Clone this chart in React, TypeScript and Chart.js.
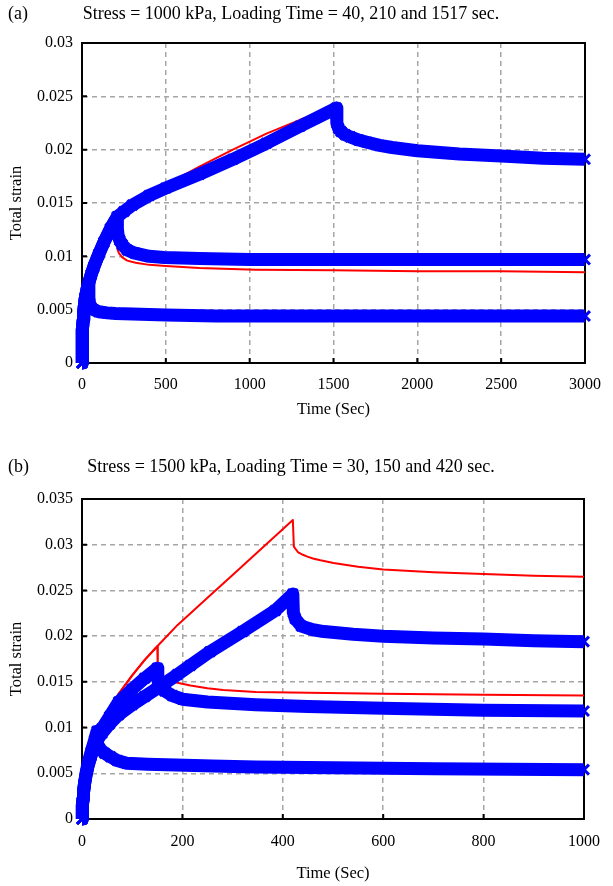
import React, { useEffect, useRef } from 'react';
import { Chart, registerables } from 'chart.js';
Chart.register(...registerables);

const FONT = "'Liberation Serif', 'Times New Roman', serif";

// ---------------- Panel (a) ----------------
const labelA = '(a)';
const titleA = 'Stress = 1000 kPa, Loading Time = 40, 210 and 1517 sec.';
const xTicksA = [0, 500, 1000, 1500, 2000, 2500, 3000];
const yTicksA = [0, 0.005, 0.01, 0.015, 0.02, 0.025, 0.03];

const tBlueA40 = [0, 0.5, 1, 2, 4, 7, 10, 15, 20, 30, 40, 41, 45, 55, 70, 100, 150, 200, 300, 500, 800, 1200, 1600, 2000, 2500, 3000];
const sBlueA40 = [0, 0.0008, 0.0014, 0.0022, 0.0031, 0.004, 0.0047, 0.0055, 0.0061, 0.0069, 0.0075, 0.0061, 0.0056, 0.0052, 0.005, 0.0048, 0.0047, 0.00465, 0.0046, 0.0045, 0.0044, 0.0044, 0.0044, 0.0044, 0.0044, 0.0044];

const tBlueA210 = [0, 0.5, 1, 2, 4, 7, 10, 15, 20, 30, 40, 55, 70, 100, 130, 170, 210, 211, 215, 225, 240, 270, 316, 400, 490, 700, 1000, 1500, 2000, 2500, 3000];
const sBlueA210 = [0, 0.0008, 0.0014, 0.0022, 0.0031, 0.004, 0.0047, 0.0055, 0.0061, 0.0069, 0.0075, 0.0083, 0.009, 0.0102, 0.0113, 0.0126, 0.0137, 0.0126, 0.012, 0.0115, 0.0111, 0.0106, 0.0103, 0.01, 0.0099, 0.0098, 0.0097, 0.0097, 0.0097, 0.0097, 0.0097];

const tBlueA1517 = [0, 0.5, 1, 2, 4, 7, 10, 15, 20, 30, 40, 55, 70, 100, 130, 170, 210, 250, 300, 400, 500, 700, 900, 1100, 1300, 1517, 1520, 1530, 1545, 1570, 1600, 1650, 1700, 1775, 1850, 2000, 2250, 2500, 2750, 3000];
const sBlueA1517 = [0, 0.0008, 0.0014, 0.0022, 0.0031, 0.004, 0.0047, 0.0055, 0.0061, 0.0069, 0.0075, 0.0083, 0.009, 0.0102, 0.0113, 0.0126, 0.0137, 0.0142, 0.0148, 0.0157, 0.0164, 0.0177, 0.0191, 0.0206, 0.0222, 0.0239, 0.0225, 0.022, 0.0217, 0.0214, 0.0212, 0.0209, 0.0207, 0.0204, 0.0202, 0.0199, 0.0196, 0.0194, 0.0192, 0.0191];

const tRedA40 = [0, 1, 2, 5, 10, 20, 40, 41, 60, 100, 300, 1000, 2000, 3000];
const sRedA40 = [0, 0.0014, 0.0022, 0.0036, 0.0047, 0.0061, 0.0075, 0.0056, 0.005, 0.0048, 0.0046, 0.0045, 0.0044, 0.0044];

const tRedA210 = [0, 1, 2, 5, 10, 20, 40, 70, 100, 150, 210, 211, 220, 240, 270, 320, 400, 500, 700, 1035, 1500, 2000, 2500, 3000];
const sRedA210 = [0, 0.0014, 0.0022, 0.0036, 0.0047, 0.0061, 0.0075, 0.009, 0.0102, 0.012, 0.0137, 0.0107, 0.0103, 0.0099, 0.0096, 0.0094, 0.0092, 0.0091, 0.0089, 0.00875, 0.0087, 0.0086, 0.0086, 0.0085];

const tRedA1517 = [0, 1, 2, 5, 10, 20, 40, 70, 100, 150, 210, 300, 400, 500, 700, 900, 1100, 1300, 1517, 1519, 1540, 1600, 1700, 2000, 2500, 3000];
const sRedA1517 = [0, 0.0014, 0.0022, 0.0036, 0.0047, 0.0061, 0.0075, 0.009, 0.0102, 0.012, 0.0137, 0.0149, 0.0158, 0.0167, 0.0184, 0.02, 0.0215, 0.0228, 0.0241, 0.0222, 0.0216, 0.0211, 0.0206, 0.0199, 0.0194, 0.0191];

// ---------------- Panel (b) ----------------
const labelB = '(b)';
const titleB = 'Stress = 1500 kPa, Loading Time = 30, 150 and 420 sec.';
const xTicksB = [0, 200, 400, 600, 800, 1000];
const yTicksB = [0, 0.005, 0.01, 0.015, 0.02, 0.025, 0.03, 0.035];

const tBlueB30 = [0, 0.5, 1, 2, 3, 5, 8, 12, 18, 25, 30, 31, 35, 45, 57, 70, 89, 110, 130, 187, 260, 346, 500, 700, 1000];
const sBlueB30 = [0, 0.0008, 0.0015, 0.0022, 0.003, 0.0039, 0.005, 0.0061, 0.0073, 0.0086, 0.0096, 0.0082, 0.0077, 0.0072, 0.0068, 0.0064, 0.0061, 0.00605, 0.006, 0.0059, 0.0058, 0.0057, 0.0056, 0.0055, 0.0054];

const tBlueB150 = [0, 0.5, 1, 2, 3, 5, 8, 12, 18, 25, 30, 40, 55, 73, 100, 125, 150, 151, 155, 165, 180, 200, 250, 346, 450, 600, 800, 1000];
const sBlueB150 = [0, 0.0008, 0.0015, 0.0022, 0.0029, 0.0038, 0.0048, 0.0058, 0.007, 0.0082, 0.0089, 0.0099, 0.0112, 0.0128, 0.0142, 0.0154, 0.0165, 0.0152, 0.0146, 0.014, 0.0135, 0.0131, 0.0128, 0.0125, 0.0123, 0.0121, 0.0119, 0.0118];

const tBlueB420 = [0, 0.5, 1, 2, 3, 5, 8, 12, 18, 25, 30, 40, 55, 73, 100, 125, 150, 190, 216, 255, 320, 385, 420, 421, 425, 437, 460, 482, 540, 600, 700, 800, 900, 1000];
const sBlueB420 = [0, 0.0008, 0.0015, 0.0022, 0.0029, 0.0038, 0.0048, 0.0058, 0.0069, 0.008, 0.0086, 0.0094, 0.0104, 0.0114, 0.0125, 0.0134, 0.0143, 0.0158, 0.0168, 0.0183, 0.0205, 0.0228, 0.0246, 0.0226, 0.0219, 0.0211, 0.0207, 0.0205, 0.0202, 0.02, 0.0198, 0.0197, 0.0195, 0.0194];

const tRedB30 = [0, 1, 2, 5, 10, 20, 30, 31, 50, 100, 200, 400, 700, 1000];
const sRedB30 = [0, 0.0015, 0.0022, 0.0038, 0.0052, 0.0072, 0.009, 0.0075, 0.0066, 0.0061, 0.0059, 0.0057, 0.0055, 0.0054];

const tRedB150 = [0, 1, 2, 5, 10, 20, 30, 50, 73, 100, 125, 150, 151, 160, 171, 190, 216, 250, 281, 346, 450, 600, 800, 1000];
const sRedB150 = [0, 0.0015, 0.0022, 0.0038, 0.0052, 0.0072, 0.009, 0.0114, 0.0137, 0.0157, 0.0174, 0.0189, 0.016, 0.0155, 0.0152, 0.0149, 0.0146, 0.0143, 0.0141, 0.0139, 0.0138, 0.0137, 0.0136, 0.0135];

const tRedB420 = [0, 1, 2, 5, 10, 20, 30, 50, 73, 100, 125, 150, 190, 250, 300, 360, 420, 422, 430, 440, 449, 460, 475, 501, 550, 600, 700, 800, 900, 1000];
const sRedB420 = [0, 0.0015, 0.0022, 0.0038, 0.0052, 0.0072, 0.009, 0.0114, 0.0137, 0.0157, 0.0174, 0.0189, 0.0212, 0.0242, 0.0267, 0.0297, 0.0327, 0.0298, 0.0292, 0.0289, 0.0287, 0.0285, 0.0283, 0.028, 0.0276, 0.0273, 0.027, 0.0268, 0.0266, 0.0265];

// ---------------- helpers ----------------
const zip = (t: number[], s: number[]) => t.map((x, i) => ({ x, y: s[i] }));

const blueSet = (t: number[], s: number[]) => ({
  data: zip(t, s),
  showLine: true,
  borderColor: '#0000ff',
  backgroundColor: '#0000ff',
  borderWidth: 13,
  borderJoinStyle: 'round',
  pointStyle: 'crossRot',
  pointRadius: 7,
  pointBorderWidth: 3,
  pointBorderColor: '#0000ff',
  pointBackgroundColor: '#0000ff',
  tension: 0,
  clip: false,
  order: 0,
});

const redSet = (t: number[], s: number[]) => ({
  data: zip(t, s),
  showLine: true,
  borderColor: '#ff0000',
  backgroundColor: '#ff0000',
  borderWidth: 2,
  borderJoinStyle: 'round',
  pointRadius: 0,
  tension: 0,
  clip: false,
  order: 1,
});

const panelTitlePlugin = {
  id: 'panelTitle',
  afterDraw(chart: any, _args: any, opts: any) {
    const ctx = chart.ctx;
    ctx.save();
    ctx.fillStyle = '#000';
    ctx.font = `18px ${FONT}`;
    ctx.textBaseline = 'middle';
    ctx.textAlign = 'left';
    ctx.fillText(opts.label, opts.labelX, opts.y);
    ctx.textAlign = 'center';
    ctx.fillText(opts.text, opts.textX, opts.y);
    ctx.restore();
  },
};

const framePlugin = {
  id: 'frame',
  beforeDatasetsDraw(chart: any) {
    const { ctx, chartArea: a, scales } = chart;
    ctx.save();
    ctx.strokeStyle = '#000';
    ctx.lineWidth = 2;
    ctx.setLineDash([]);
    ctx.strokeRect(a.left, a.top, a.right - a.left, a.bottom - a.top);
    ctx.beginPath();
    scales.x.ticks.forEach((t: any) => {
      const px = scales.x.getPixelForValue(t.value);
      ctx.moveTo(px, a.bottom);
      ctx.lineTo(px, a.bottom - 5);
    });
    scales.y.ticks.forEach((t: any) => {
      const py = scales.y.getPixelForValue(t.value);
      ctx.moveTo(a.left, py);
      ctx.lineTo(a.left + 5, py);
    });
    ctx.stroke();
    ctx.restore();
  },
};

function makeConfig(p: any) {
  return {
    type: 'scatter',
    data: { datasets: p.datasets },
    options: {
      animation: false,
      responsive: false,
      maintainAspectRatio: false,
      layout: { padding: { top: p.padTop, right: 16, left: 0, bottom: 0 } },
      plugins: {
        legend: { display: false },
        tooltip: { enabled: false },
        panelTitle: { label: p.label, text: p.title, labelX: 8, textX: 291, y: p.titleY },
      },
      scales: {
        x: {
          type: 'linear',
          min: p.xTicks[0],
          max: p.xTicks[p.xTicks.length - 1],
          ticks: {
            stepSize: p.xTicks[1] - p.xTicks[0],
            callback: (v: number) => String(v),
            color: '#000',
            font: { family: FONT, size: 16 },
            padding: p.xTickPad,
            maxRotation: 0,
            autoSkip: false,
          },
          grid: { color: '#a6a6a6', lineWidth: 1.5, drawTicks: false },
          border: { display: true, color: '#000', width: 2, dash: [5, 4] },
          title: {
            display: true,
            text: 'Time (Sec)',
            color: '#000',
            font: { family: FONT, size: 16.5 },
            padding: { top: 0, bottom: p.xTitlePad },
          },
          afterFit: (s: any) => { s.height = p.xAxisH; },
        },
        y: {
          type: 'linear',
          min: p.yTicks[0],
          max: p.yTicks[p.yTicks.length - 1],
          ticks: {
            stepSize: p.yTicks[1] - p.yTicks[0],
            callback: (v: number) => String(Number(v.toFixed(4))),
            color: '#000',
            font: { family: FONT, size: 16 },
            padding: 9,
            autoSkip: false,
          },
          grid: { color: '#a6a6a6', lineWidth: 1.5, drawTicks: false },
          border: { display: true, color: '#000', width: 2, dash: [5, 4] },
          title: {
            display: true,
            text: 'Total strain',
            color: '#000',
            font: { family: FONT, size: 16.5 },
            padding: { top: 7, bottom: 0 },
          },
          afterFit: (s: any) => { s.width = 82; },
        },
      },
    },
    plugins: [framePlugin, panelTitlePlugin],
  };
}

function Panel(props: { p: any }) {
  const ref = useRef<HTMLCanvasElement | null>(null);
  useEffect(() => {
    if (!ref.current) return;
    const chart = new Chart(ref.current, makeConfig(props.p) as any);
    return () => chart.destroy();
  }, []);
  return <canvas ref={ref} width={613} height={443} style={{ display: 'block', width: 613, height: 443 }} />;
}

const panelA = {
  label: labelA,
  title: titleA,
  titleY: 14,
  padTop: 43,
  xAxisH: 80,
  xTickPad: 12,
  xTitlePad: 23,
  xTicks: xTicksA,
  yTicks: yTicksA,
  datasets: [
    blueSet(tBlueA1517, sBlueA1517),
    blueSet(tBlueA210, sBlueA210),
    blueSet(tBlueA40, sBlueA40),
    redSet(tRedA1517, sRedA1517),
    redSet(tRedA210, sRedA210),
    redSet(tRedA40, sRedA40),
  ],
};

const panelB = {
  label: labelB,
  title: titleB,
  titleY: 24,
  padTop: 56,
  xAxisH: 67,
  xTickPad: 13,
  xTitlePad: 2,
  xTicks: xTicksB,
  yTicks: yTicksB,
  datasets: [
    blueSet(tBlueB420, sBlueB420),
    blueSet(tBlueB150, sBlueB150),
    blueSet(tBlueB30, sBlueB30),
    redSet(tRedB420, sRedB420),
    redSet(tRedB150, sRedB150),
    redSet(tRedB30, sRedB30),
  ],
};

export default function App() {
  return (
    <div style={{ position: 'absolute', left: 0, top: 0, width: 613, height: 886, background: '#fff' }}>
      <Panel p={panelA} />
      <Panel p={panelB} />
    </div>
  );
}
